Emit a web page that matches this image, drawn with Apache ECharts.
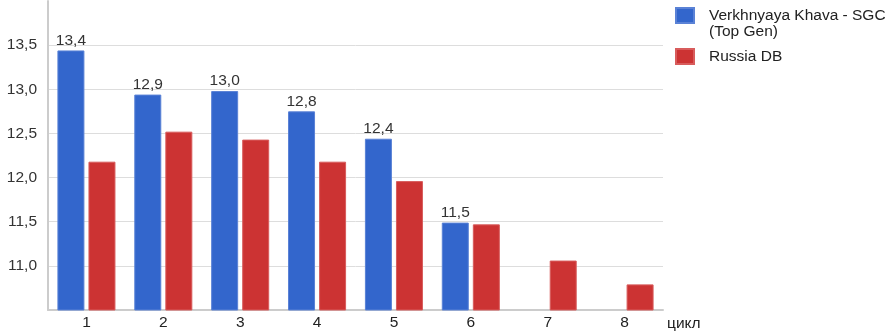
<!DOCTYPE html>
<html>
<head>
<meta charset="utf-8">
<script src="https://cdn.jsdelivr.net/npm/echarts@6/dist/echarts.min.js"></script>
<style>
  html, body { margin: 0; padding: 0; background: #fff; }
  #chart { width: 893px; height: 332px; }
</style>
</head>
<body>
<div id="chart"></div>
<script>
// Cycle numbers on the x axis
var cycles = ['1', '2', '3', '4', '5', '6', '7', '8'];
// Herd average per cycle
var topGen = [13.44, 12.94, 12.98, 12.75, 12.44, 11.49, null, null];
var russiaDb = [12.18, 12.52, 12.43, 12.18, 11.96, 11.47, 11.06, 10.79];
var seriesNames = ['Verkhnyaya Khava - SGC (Top Gen)', 'Russia DB'];

var FONT = '"Liberation Sans", Arial, sans-serif';
var FS = 15.5;

function decimalComma(v, digits) {
  return v.toFixed(digits).replace('.', ',');
}

var chart = echarts.init(document.getElementById('chart'));
chart.setOption({
  animation: false,
  textStyle: { fontFamily: FONT },
  grid: { left: 48, right: 230, top: 1, bottom: 21, containLabel: false },
  legend: {
    orient: 'vertical',
    left: 675,
    top: 7,
    padding: 0,
    itemWidth: 18,
    itemHeight: 15,
    itemGap: 24,
    icon: 'rect',
    data: seriesNames,
    formatter: function (name) {
      return name === seriesNames[0] ? 'Verkhnyaya Khava - SGC' : name;
    },
    textStyle: { fontFamily: FONT, fontSize: FS, color: '#222', padding: [0, 0, 0, 10] }
  },
  graphic: [{
    type: 'text',
    left: 709,
    top: 24,
    style: { text: '(Top Gen)', fontFamily: FONT, fontSize: FS, fill: '#222' }
  }],
  xAxis: {
    type: 'category',
    data: cycles,
    name: 'цикл',
    nameLocation: 'end',
    nameGap: 4,
    nameTextStyle: { fontFamily: FONT, fontSize: FS, color: '#222', verticalAlign: 'top', padding: [6, 0, 0, 0] },
    axisLine: { lineStyle: { color: '#ccc', width: 2 } },
    axisTick: { show: false },
    axisLabel: { fontFamily: FONT, fontSize: FS, color: '#222', margin: 5 }
  },
  yAxis: {
    type: 'value',
    min: 10.5,
    max: 14,
    interval: 0.5,
    axisLine: { show: true, lineStyle: { color: '#ccc', width: 2 } },
    axisTick: { show: false },
    splitLine: { showMaxLine: false, lineStyle: { color: '#ddd', width: 1 } },
    axisLabel: {
      fontFamily: FONT, fontSize: FS, color: '#333', margin: 11,
      showMaxLabel: false,
      formatter: function (v) {
        if (v <= 10.5 || v >= 14) return '';
        return decimalComma(v, 1);
      }
    }
  },
  series: [
    {
      name: seriesNames[0],
      type: 'bar',
      data: topGen,
      barWidth: 27,
      barGap: '15%',
      itemStyle: { color: '#3366cc', borderColor: '#5a82d6', borderWidth: 1 },
      label: {
        show: true,
        position: 'top',
        distance: 2,
        fontFamily: FONT,
        fontSize: FS,
        color: '#333',
        formatter: function (p) { return decimalComma(p.value, 1); }
      }
    },
    {
      name: seriesNames[1],
      type: 'bar',
      data: russiaDb,
      barWidth: 27,
      itemStyle: { color: '#cc3333', borderColor: '#d85c5c', borderWidth: 1 }
    }
  ]
});
</script>
</body>
</html>
